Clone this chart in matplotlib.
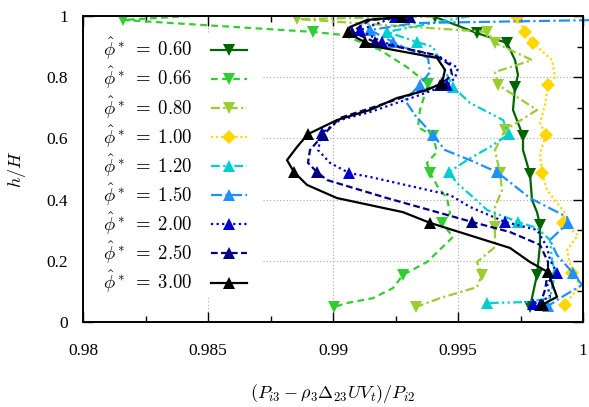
import matplotlib
matplotlib.use("Agg")
import matplotlib.pyplot as plt
from matplotlib.patches import Rectangle
from matplotlib.ticker import MultipleLocator

plt.rcParams['font.family'] = 'serif'
plt.rcParams['font.serif'] = ['Liberation Serif', 'DejaVu Serif']
plt.rcParams['mathtext.fontset'] = 'cm'

# profiles of the corrected pressure ratio over the channel height, one per phi*
phi_labels = ['0.60', '0.66', '0.80', '1.00', '1.20', '1.50', '2.00', '2.50', '3.00']

x_060 = [0.99408, 0.99576, 0.99696, 0.99728, 0.9974, 0.99728, 0.9972, 0.9976, 0.9976,
         0.99788, 0.99796, 0.99816, 0.99828, 0.99828, 0.99816, 0.99788]
y_060 = [0.997, 0.944, 0.912, 0.856, 0.807, 0.768, 0.693, 0.608, 0.562,
         0.484, 0.399, 0.359, 0.317, 0.252, 0.154, 0.049]
m_060 = [0, 1, 2, 5, 7, 9, 12, 14, 15]

x_066 = [0.98428, 0.9816, 0.9892, 0.9904, 0.99188, 0.99296, 0.9938, 0.99348, 0.9934,
         0.994, 0.99416, 0.99376, 0.99388, 0.9942, 0.99456, 0.99468, 0.99436, 0.9948,
         0.99376, 0.9928, 0.9924, 0.9916, 0.99056, 0.99004]
y_066 = [1.0, 0.987, 0.948, 0.938, 0.889, 0.833, 0.778, 0.693, 0.637,
         0.608, 0.556, 0.520, 0.487, 0.441, 0.405, 0.356, 0.324, 0.278,
         0.196, 0.154, 0.111, 0.078, 0.062, 0.049]
m_066 = [1, 2, 6, 9, 12, 16, 19, 23]

x_080 = [0.99548, 0.98856, 0.99616, 0.99648, 0.99796, 0.99648, 0.9966, 0.99816, 0.99688,
         0.99648, 0.99668, 0.99676, 0.99648, 0.99648, 0.99648, 0.99576, 0.99596, 0.99576,
         0.99428, 0.99332]
y_080 = [1.0, 0.990, 0.948, 0.912, 0.856, 0.817, 0.775, 0.693, 0.627,
         0.562, 0.487, 0.431, 0.376, 0.310, 0.245, 0.196, 0.154, 0.114,
         0.078, 0.049]
m_080 = [1, 2, 3, 6, 8, 10, 13, 16, 19]

x_100 = [0.99736, 0.99768, 0.998, 0.99876, 0.99888, 0.9986, 0.99848, 0.99828, 0.99852,
         0.99828, 0.99836, 0.99856, 0.99928, 0.9992, 0.9998, 0.99936, 0.99956, 0.99988,
         0.99928]
y_100 = [0.997, 0.948, 0.912, 0.856, 0.801, 0.775, 0.709, 0.650, 0.611,
         0.552, 0.487, 0.431, 0.356, 0.324, 0.284, 0.235, 0.160, 0.121,
         0.056]
m_100 = [0, 1, 2, 5, 8, 10, 13, 16, 18]

x_120 = [0.99548, 0.99216, 0.99336, 0.994, 0.9946, 0.9948, 0.99548, 0.9968, 0.99704,
         0.99628, 0.99536, 0.99464, 0.99496, 0.9956, 0.99616, 0.9974, 0.99816, 0.99868,
         0.99876, 0.99888, 0.99868, 0.99776, 0.99616]
y_120 = [1.0, 0.948, 0.915, 0.899, 0.801, 0.768, 0.716, 0.660, 0.614,
         0.572, 0.529, 0.490, 0.454, 0.408, 0.366, 0.327, 0.307, 0.268,
         0.203, 0.160, 0.078, 0.065, 0.062]
m_120 = [1, 2, 5, 8, 11, 15, 19, 22]

x_150 = [1.00068, 0.99328, 0.99148, 0.9924, 0.9938, 0.99388, 0.99348, 0.99288, 0.99328,
         0.994, 0.99448, 0.99548, 0.99656, 0.99788, 0.99936, 0.9994, 0.99868, 0.99896,
         0.9996, 0.99996, 0.99908, 0.9986]
y_150 = [0.987, 0.977, 0.954, 0.915, 0.863, 0.817, 0.775, 0.725, 0.676,
         0.611, 0.562, 0.529, 0.490, 0.405, 0.343, 0.324, 0.268, 0.219,
         0.160, 0.121, 0.078, 0.052]
m_150 = [2, 3, 6, 9, 12, 15, 18, 21]

x_200 = [0.99248, 0.99108, 0.99196, 0.99428, 0.995, 0.99488, 0.99456, 0.99348, 0.99148,
         0.99028, 0.98956, 0.9894, 0.98988, 0.99064, 0.99148, 0.99468, 0.99548, 0.99688,
         0.99816, 0.99856, 0.99868, 0.99896, 0.99856, 0.99868, 0.998]
y_200 = [0.997, 0.954, 0.915, 0.866, 0.830, 0.797, 0.775, 0.742, 0.686,
         0.660, 0.618, 0.562, 0.520, 0.487, 0.474, 0.415, 0.376, 0.327,
         0.301, 0.245, 0.203, 0.160, 0.127, 0.082, 0.059]
m_200 = [0, 1, 2, 6, 10, 13, 17, 21, 24]

x_250 = [0.99308, 0.99148, 0.99076, 0.99168, 0.99408, 0.99468, 0.99476, 0.99428, 0.99308,
         0.99188, 0.99028, 0.9896, 0.98908, 0.989, 0.98936, 0.98976, 0.99216, 0.99556,
         0.99708, 0.99828, 0.9986, 0.9986, 0.99848, 0.99828]
y_250 = [0.997, 0.987, 0.948, 0.915, 0.873, 0.840, 0.807, 0.775, 0.742,
         0.709, 0.667, 0.611, 0.562, 0.520, 0.490, 0.464, 0.405, 0.327,
         0.294, 0.252, 0.196, 0.163, 0.105, 0.056]
m_250 = [0, 2, 3, 7, 11, 14, 17, 21, 23]

x_300 = [0.99276, 0.99136, 0.99068, 0.9906, 0.99096, 0.99128, 0.99176, 0.99416, 0.99448,
         0.99436, 0.99376, 0.99256, 0.99148, 0.99016, 0.989, 0.98856, 0.98816, 0.98844,
         0.98896, 0.99016, 0.9928, 0.99388, 0.99708, 0.99788, 0.9986, 0.99896, 0.99856,
         0.9984]
y_300 = [0.997, 0.987, 0.964, 0.948, 0.928, 0.915, 0.899, 0.863, 0.824,
         0.781, 0.758, 0.732, 0.693, 0.660, 0.614, 0.572, 0.529, 0.490,
         0.448, 0.405, 0.359, 0.324, 0.242, 0.196, 0.163, 0.082, 0.065,
         0.056]
m_300 = [0, 3, 5, 9, 14, 17, 21, 24, 27]

# colour, dash pattern, marker
styles = [
    ('#006400', '-', 'v'),
    ('#32cd32', (0, (3, 2)), 'v'),
    ('#9acd32', (0, (4, 1.5, 1, 1.5)), 'v'),
    ('#ffd700', (0, (1, 1.2)), 'D'),
    ('#00ced1', (0, (4, 1.5, 1, 1.5, 1, 1.5)), '^'),
    ('#1e90ff', (0, (5, 1.5, 1, 1.5)), '^'),
    ('#0000cd', (0, (1, 1.5)), '^'),
    ('#000080', (0, (3, 1.5)), '^'),
    ('#000000', '-', '^'),
]
series = [(x_060, y_060, m_060), (x_066, y_066, m_066), (x_080, y_080, m_080),
          (x_100, y_100, m_100), (x_120, y_120, m_120), (x_150, y_150, m_150),
          (x_200, y_200, m_200), (x_250, y_250, m_250), (x_300, y_300, m_300)]

fig = plt.figure(figsize=(5.89, 4.07), dpi=100)
ax = fig.add_axes([83 / 589, 85 / 407, 500 / 589, 306 / 407])

for (xs, ys, mk), (col, ls, mrk), lab in zip(series, styles, phi_labels):
    ms = 7 if mrk == 'D' else 8
    ax.plot(xs, ys, color=col, linestyle=ls, linewidth=1.6, marker=mrk,
            markersize=ms, markevery=mk, markeredgewidth=0,
            label=r'$\hat{\phi}^*\;=\;%s$' % lab,
            clip_on=(lab != '1.50'))

ax.set_xlim(0.98, 1.0)
ax.set_ylim(0, 1)
ax.set_xticks([0.98, 0.985, 0.99, 0.995, 1.0])
ax.set_xticklabels(['0.98', '0.985', '0.99', '0.995', '1'])
ax.set_yticks([0, 0.2, 0.4, 0.6, 0.8, 1.0])
ax.set_yticklabels(['0', '0.2', '0.4', '0.6', '0.8', '1'])
ax.xaxis.set_minor_locator(MultipleLocator(0.0025))
ax.yaxis.set_minor_locator(MultipleLocator(0.1))
ax.tick_params(which='both', direction='in', top=True, right=True, width=1.0,
               labelsize=12.5)
ax.tick_params(which='major', length=7)
ax.tick_params(which='minor', length=4)
ax.tick_params(axis='x', pad=15)
ax.tick_params(axis='y', pad=11)
for sp in ax.spines.values():
    sp.set_linewidth(1.4)

ax.set_axisbelow(True)
ax.grid(True, which='major', color='#a8a8a8', linestyle=(0, (1, 2)), linewidth=0.8)

# opaque key area: grid lines stop at its edge
ax.add_patch(Rectangle((0, 0.078), 0.36, 0.863, transform=ax.transAxes,
                       facecolor='white', edgecolor='none', zorder=1))

ax.set_xlabel(r'$(P_{i3} - \rho_3 \Delta_{23} U V_t)/P_{i2}$', fontsize=13)
ax.set_ylabel(r'$h/H$', fontsize=13)
ax.xaxis.set_label_coords(0.5, -0.195)
ax.yaxis.set_label_coords(-0.11, 0.5)

leg = ax.legend(loc='upper left', bbox_to_anchor=(0.04, 0.935), markerfirst=False,
                frameon=False, fontsize=13.5, handlelength=1.9, handletextpad=1.0,
                labelspacing=0.14, borderpad=0.0, borderaxespad=0.0)

fig.savefig('out.png', dpi=100)
